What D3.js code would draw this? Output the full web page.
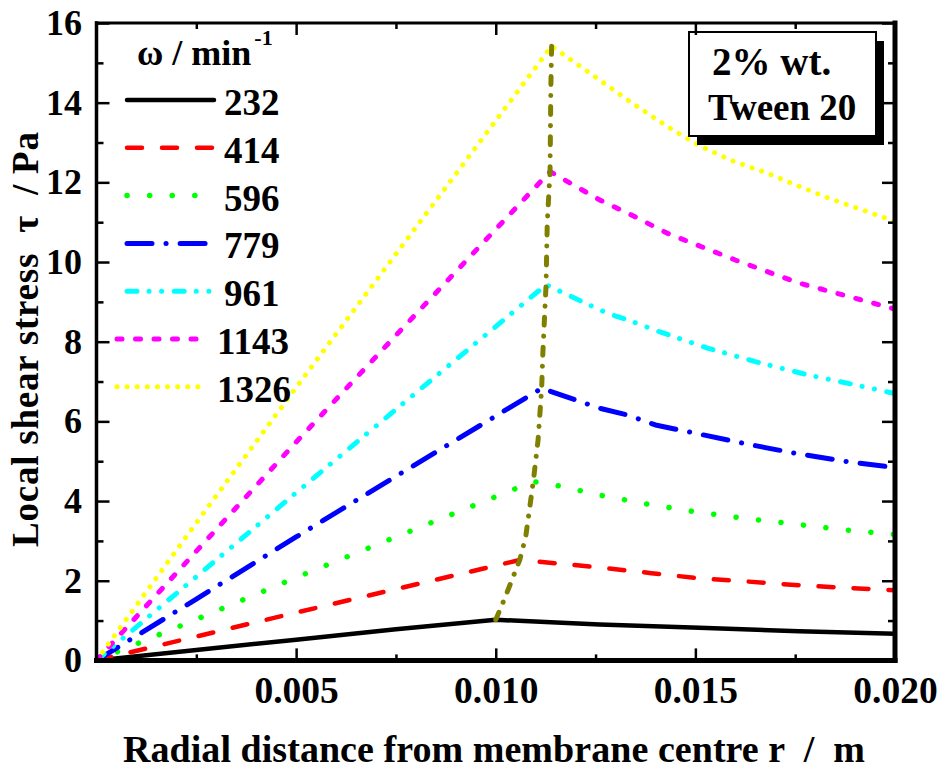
<!DOCTYPE html>
<html>
<head>
<meta charset="utf-8">
<script src="https://cdn.jsdelivr.net/npm/d3@7/dist/d3.min.js"></script>
<style>
  html, body { margin: 0; padding: 0; background: #fff; }
  svg { display: block; }
  text { font-family: "Liberation Serif", "Times New Roman", serif; font-weight: bold; fill: #000; }
</style>
</head>
<body>
<svg id="chart" width="942" height="771"></svg>
<script>
// Rotation speeds (min^-1) shown in the legend
const speeds = [232, 414, 596, 779, 961, 1143, 1326];

// Local shear stress profiles: [radial distance r (m), shear stress tau (Pa)]
const tau232 = [[0, 0], [0.0025, 0.26], [0.005, 0.52], [0.0075, 0.78], [0.0100, 1.02],
  [0.0126, 0.90], [0.0151, 0.82], [0.0176, 0.73], [0.0200, 0.67]];
const tau414 = [[0, 0], [0.0025, 0.60], [0.005, 1.20], [0.0075, 1.79], [0.0106, 2.52],
  [0.0119, 2.40], [0.0128, 2.31], [0.0139, 2.19], [0.0151, 2.06], [0.0163, 1.98],
  [0.0174, 1.90], [0.0186, 1.83], [0.0200, 1.76]];
const tau596 = [[0, 0], [0.0025, 1.03], [0.005, 2.08], [0.0075, 3.10], [0.01094, 4.49],
  [0.0117, 4.36], [0.0122, 4.24], [0.0126, 4.15], [0.0137, 3.94], [0.0150, 3.73],
  [0.0162, 3.57], [0.0175, 3.42], [0.0186, 3.29], [0.0200, 3.16]];
const tau779 = [[0, 0], [0.0025, 1.54], [0.005, 3.10], [0.0075, 4.62], [0.01115, 6.83],
  [0.0126, 6.33], [0.0133, 6.16], [0.0140, 5.91], [0.0152, 5.66], [0.0164, 5.41],
  [0.0175, 5.20], [0.0188, 4.99], [0.0200, 4.84]];
const tau961 = [[0, 0], [0.0025, 2.10], [0.005, 4.21], [0.0075, 6.30], [0.01126, 9.43],
  [0.0128, 8.71], [0.0133, 8.55], [0.0141, 8.25], [0.0153, 7.84], [0.0165, 7.50],
  [0.0178, 7.17], [0.0188, 6.96], [0.0200, 6.70]];
const tau1143 = [[0, 0], [0.0025, 2.74], [0.005, 5.48], [0.0075, 8.16], [0.01136, 12.27],
  [0.0126, 11.56], [0.0134, 11.18], [0.0143, 10.72], [0.0160, 10.05], [0.0176, 9.47],
  [0.0200, 8.82]];
const tau1326 = [[0, 0], [0.0025, 3.45], [0.005, 6.85], [0.0075, 10.20], [0.0114, 15.42],
  [0.0126, 14.57], [0.0134, 14.00], [0.0143, 13.40], [0.0151, 12.92], [0.0159, 12.55],
  [0.0168, 12.23], [0.0176, 11.90], [0.0184, 11.58], [0.0200, 11.02]];

// Locus of the maxima (edge of the rigid-body vortex core)
const peakLocus = [[0.0100, 1.02], [0.01023, 1.57], [0.0106, 2.52], [0.01075, 3.10],
  [0.01094, 4.49], [0.01106, 5.53], [0.01115, 6.83], [0.01118, 7.72], [0.01126, 9.43],
  [0.01129, 10.98], [0.01136, 12.27], [0.01138, 14.40], [0.0114, 15.42]];

const xMajorTicks = [0.005, 0.010, 0.015, 0.020];
const xMinorTicks = [0.0025, 0.0075, 0.0125, 0.0175];
const yMajorTicks = [0, 2, 4, 6, 8, 10, 12, 14, 16];
const yMinorTicks = [1, 3, 5, 7, 9, 11, 13, 15];

const xTitle = "Radial distance from membrane centre r  /  m";
const yTitle = "Local shear stress  \u03C4  / Pa";
const legendTitle = "\u03C9 / min";
const insetLines = ["2% wt.", "Tween 20"];

const series = [tau232, tau414, tau596, tau779, tau961, tau1143, tau1326];

// Line appearance for each speed (round caps add half a width to each end)
const lineColors = ["#000000", "#ff0000", "#00ff00", "#0000ff", "#00ffff", "#ff00ff", "#ffff00"];
const lineDashes = [null, "15,20", "0.1,22.5", "25,14,0.1,14", "10,12,0.1,12.5,0.1,12.5", "5,13.5", "0.1,10"];
const lineWidths = [4.5, 4.5, 5.5, 5, 5, 5, 5];

const svg = d3.select("#chart");
const W = 942, H = 771;
const x0 = 96.5, x1 = 895, yTop = 23, yBot = 660.4;

const x = d3.scaleLinear().domain([0, 0.02]).range([x0, x1]);
const y = d3.scaleLinear().domain([0, 16]).range([yBot, yTop]);

svg.append("rect").attr("width", W).attr("height", H).attr("fill", "#fff");

svg.append("defs").append("clipPath").attr("id", "plotClip")
  .append("rect").attr("x", x0).attr("y", yTop - 2).attr("width", x1 - x0).attr("height", yBot - yTop + 2);

const line = d3.line().x(d => x(d[0])).y(d => y(d[1]));

const curves = svg.append("g").attr("clip-path", "url(#plotClip)");
series.forEach((s, i) => {
  curves.append("path")
    .attr("d", line(s))
    .attr("fill", "none")
    .attr("stroke", lineColors[i])
    .attr("stroke-width", lineWidths[i])
    .attr("stroke-linecap", "round")
    .attr("stroke-linejoin", "round")
    .attr("stroke-dasharray", lineDashes[i]);
});

// Locus of the shear-stress maxima
curves.append("path")
  .attr("d", line(peakLocus))
  .attr("fill", "none")
  .attr("stroke", "#808000")
  .attr("stroke-width", 5)
  .attr("stroke-linecap", "round")
  .attr("stroke-dasharray", "8,11,0.1,11");

// Inset annotation box with drop shadow
const inset = svg.append("g");
inset.append("rect").attr("x", 697).attr("y", 41).attr("width", 187).attr("height", 104).attr("fill", "#000");
inset.append("rect").attr("x", 689).attr("y", 32).attr("width", 187).attr("height", 104)
  .attr("fill", "#fff").attr("stroke", "#000").attr("stroke-width", 2);
inset.append("text").attr("x", 712).attr("y", 75).attr("font-size", 39).text(insetLines[0]);
inset.append("text").attr("x", 708).attr("y", 120).attr("font-size", 37).text(insetLines[1]);

// Axes: ticks point into the plot on all four sides
function styleAxis(g) {
  g.attr("font-family", null).attr("font-size", null);
  g.select(".domain").remove();
  g.selectAll(".tick line").attr("stroke", "#000").attr("stroke-width", 2.5);
}

svg.append("g").attr("transform", `translate(0,${yBot})`)
  .call(d3.axisBottom(x).tickValues(xMajorTicks).tickSize(-12).tickPadding(16)
    .tickFormat(d3.format(".3f")))
  .call(styleAxis)
  .call(g => g.selectAll("text").attr("font-size", 37.5));
svg.append("g").attr("transform", `translate(0,${yBot})`)
  .call(d3.axisBottom(x).tickValues(xMinorTicks).tickSize(-6).tickFormat(""))
  .call(styleAxis);

svg.append("g").attr("transform", `translate(0,${yTop})`)
  .call(d3.axisTop(x).tickValues(xMajorTicks).tickSize(-12).tickFormat(""))
  .call(styleAxis);
svg.append("g").attr("transform", `translate(0,${yTop})`)
  .call(d3.axisTop(x).tickValues(xMinorTicks).tickSize(-6).tickFormat(""))
  .call(styleAxis);

svg.append("g").attr("transform", `translate(${x0},0)`)
  .call(d3.axisLeft(y).tickValues(yMajorTicks).tickSize(-13).tickPadding(14.5)
    .tickFormat(d3.format("d")))
  .call(styleAxis)
  .call(g => g.selectAll("text").attr("font-size", 36));
svg.append("g").attr("transform", `translate(${x0},0)`)
  .call(d3.axisLeft(y).tickValues(yMinorTicks).tickSize(-7).tickFormat(""))
  .call(styleAxis);

svg.append("g").attr("transform", `translate(${x1},0)`)
  .call(d3.axisRight(y).tickValues(yMajorTicks).tickSize(-13).tickFormat(""))
  .call(styleAxis);
svg.append("g").attr("transform", `translate(${x1},0)`)
  .call(d3.axisRight(y).tickValues(yMinorTicks).tickSize(-7).tickFormat(""))
  .call(styleAxis);

// Plot frame
const frame = svg.append("g").attr("stroke", "#000").attr("stroke-linecap", "square");
frame.append("line").attr("x1", x0).attr("x2", x1).attr("y1", yTop).attr("y2", yTop).attr("stroke-width", 3);
frame.append("line").attr("x1", x0).attr("x2", x1).attr("y1", yBot).attr("y2", yBot).attr("stroke-width", 5);
frame.append("line").attr("x1", x0).attr("x2", x0).attr("y1", yTop).attr("y2", yBot).attr("stroke-width", 3.5);
frame.append("line").attr("x1", x1).attr("x2", x1).attr("y1", yTop).attr("y2", yBot).attr("stroke-width", 5);

// Axis titles
svg.append("text")
  .attr("x", 123).attr("y", 762)
  .attr("font-size", 38)
  .attr("textLength", 742).attr("lengthAdjust", "spacing")
  .style("white-space", "pre")
  .text(xTitle);

svg.append("text")
  .attr("transform", "translate(38,547) rotate(-90)")
  .attr("font-size", 37)
  .attr("textLength", 415).attr("lengthAdjust", "spacing")
  .style("white-space", "pre")
  .text(yTitle);

// Legend
const legend = svg.append("g");
const lt = legend.append("text").attr("x", 137).attr("y", 65).attr("font-size", 36);
lt.append("tspan").text(legendTitle);
lt.append("tspan").attr("font-size", 22).attr("dy", -20).attr("dx", 3).text("-1");

const rowY0 = 100, rowStep = 47.8;
speeds.forEach((v, i) => {
  const yy = rowY0 + i * rowStep;
  const wide = String(v).length > 3;
  const lx0 = wide ? 117 : 127;
  const lx1 = wide ? 202 : 214;
  legend.append("line")
    .attr("x1", lx0).attr("x2", lx1).attr("y1", yy).attr("y2", yy)
    .attr("stroke", lineColors[i])
    .attr("stroke-width", lineWidths[i])
    .attr("stroke-linecap", "round")
    .attr("stroke-dasharray", lineDashes[i]);
  legend.append("text")
    .attr("x", wide ? 217 : 224).attr("y", yy + 15)
    .attr("font-size", 37)
    .text(v);
});
</script>
</body>
</html>
